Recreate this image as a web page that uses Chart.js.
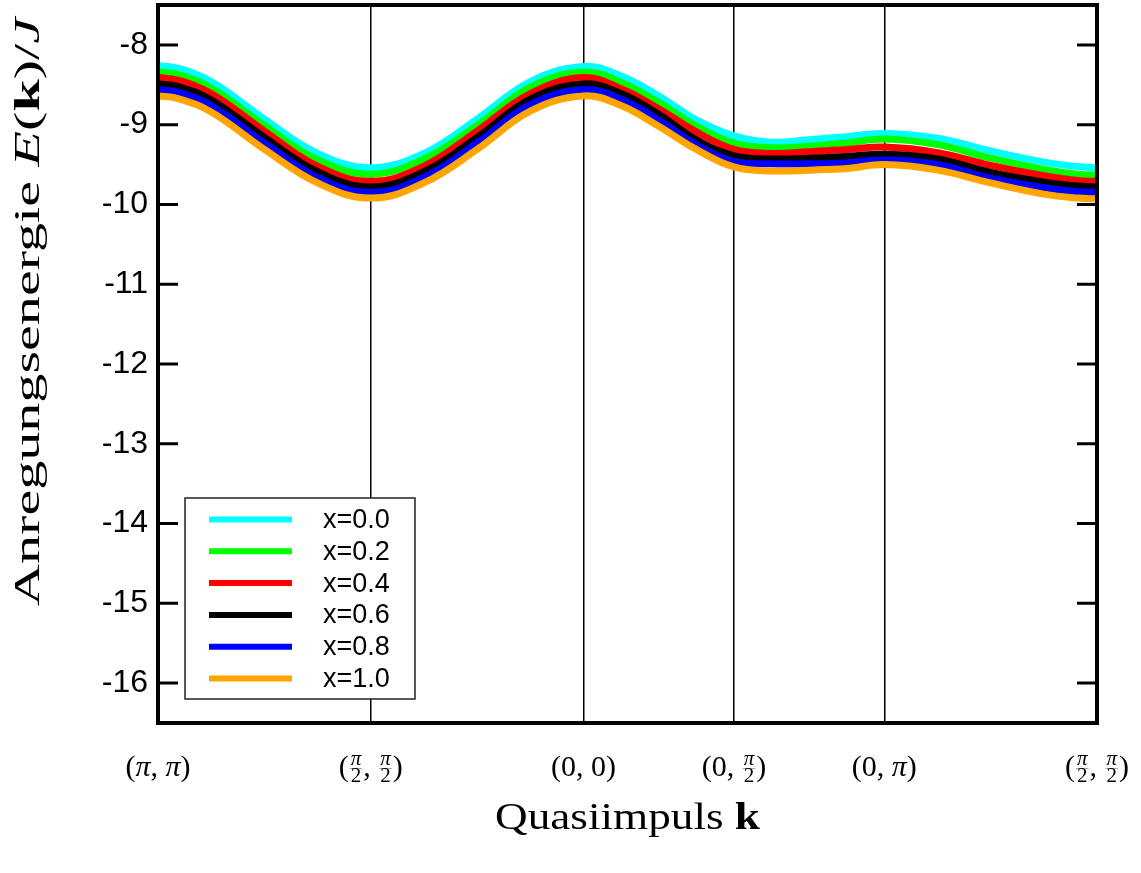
<!DOCTYPE html>
<html>
<head>
<meta charset="utf-8">
<script src="https://cdn.jsdelivr.net/npm/chart.js@4.4.1/dist/chart.umd.min.js"></script>
<style>
  html, body { margin: 0; padding: 0; background: #fff; }
  canvas { display: block; }
</style>
</head>
<body>
<canvas id="c" width="1141" height="873"></canvas>
<script>
// path length along (π,π) -> (π/2,π/2) -> (0,0) -> (0,π/2) -> (0,π) -> (π/2,π/2)
const kPath = [0, 0.2, 0.555, 1.111, 1.666, 2.221, 2.776, 3.332, 3.887, 4.443,
  4.835, 5.228, 5.621, 6.014, 6.406, 6.799, 7.192, 7.584, 8.140, 8.695, 9.250, 9.6, 9.805];

const symPoints = [0, 2.221, 4.443, 6.014, 7.584, 9.805];
const symLabels = ['(π,π)', '(π/2,π/2)', '(0,0)', '(0,π/2)', '(0,π)', '(π/2,π/2)'];
const yTicks = [-16, -15, -14, -13, -12, -11, -10, -9, -8];

const seriesNames = ['x=0.0', 'x=0.2', 'x=0.4', 'x=0.6', 'x=0.8', 'x=1.0'];
const seriesColors = ['#00ffff', '#00ff00', '#ff0000', '#000000', '#0000ff', '#ffa500'];

const e00 = [-8.26, -8.29, -8.46, -8.93, -9.36, -9.54, -9.36, -8.93, -8.46, -8.27, -8.39, -8.64, -8.94, -9.14, -9.22, -9.19, -9.15, -9.11, -9.17, -9.33, -9.47, -9.525, -9.54];
const e02 = [-8.34, -8.37, -8.54, -9.01, -9.44, -9.62, -9.43, -9.01, -8.53, -8.34, -8.47, -8.72, -9.02, -9.23, -9.29, -9.27, -9.23, -9.18, -9.25, -9.42, -9.56, -9.62, -9.63];
const e04 = [-8.41, -8.44, -8.61, -9.08, -9.52, -9.71, -9.52, -9.08, -8.61, -8.41, -8.55, -8.80, -9.09, -9.31, -9.36, -9.34, -9.31, -9.28, -9.35, -9.51, -9.64, -9.70, -9.71];
const e06 = [-8.49, -8.52, -8.69, -9.16, -9.59, -9.78, -9.59, -9.16, -8.68, -8.49, -8.61, -8.87, -9.19, -9.39, -9.43, -9.42, -9.40, -9.37, -9.43, -9.60, -9.72, -9.77, -9.78];
const e08 = [-8.56, -8.59, -8.76, -9.23, -9.66, -9.85, -9.66, -9.23, -8.75, -8.56, -8.68, -8.94, -9.25, -9.46, -9.49, -9.49, -9.48, -9.44, -9.50, -9.67, -9.79, -9.84, -9.85];
const e10 = [-8.64, -8.67, -8.84, -9.31, -9.73, -9.92, -9.73, -9.31, -8.83, -8.64, -8.76, -9.02, -9.31, -9.53, -9.58, -9.57, -9.55, -9.50, -9.57, -9.73, -9.87, -9.92, -9.93];

const allSeries = [e00, e02, e04, e06, e08, e10];

const SERIF = '"Liberation Serif", "DejaVu Serif", serif';
const SANS = '"Liberation Sans", Arial, sans-serif';

function runFont(style, size) {
  return (style === 'i' ? 'italic ' : style === 'b' ? 'bold ' : '') + size + 'px ' + SERIF;
}
function runsWidth(ctx, runs, size) {
  let w = 0;
  for (const [t, s] of runs) { ctx.font = runFont(s, size); w += ctx.measureText(t).width; }
  return w;
}
// draws styled text centred on 0, stretched to the given width
function drawRunsFit(ctx, runs, size, width) {
  const w = runsWidth(ctx, runs, size);
  ctx.save();
  ctx.scale(width / w, 1);
  let x = -w / 2;
  for (const [t, s] of runs) {
    ctx.font = runFont(s, size);
    ctx.fillText(t, x, 0);
    x += ctx.measureText(t).width;
  }
  ctx.restore();
}

function labelItems(str) {
  const items = [];
  str.split(/(π\/2)/).forEach(p => {
    if (!p) return;
    if (p === 'π/2') items.push({ frac: true });
    else for (const ch of p) items.push({ t: ch === ',' ? ', ' : ch, s: ch === 'π' ? 'i' : 'r' });
  });
  return items;
}

function drawTickLabel(ctx, str, cx, base) {
  const big = 30, small = 21;
  const items = labelItems(str);
  let w = 0;
  items.forEach(it => {
    if (it.frac) {
      ctx.font = runFont('i', small);
      it.w = ctx.measureText('π').width + 4;
    } else {
      ctx.font = runFont(it.s, big);
      it.w = ctx.measureText(it.t).width;
    }
    w += it.w;
  });
  let x = cx - w / 2;
  ctx.textAlign = 'left';
  ctx.textBaseline = 'alphabetic';
  items.forEach(it => {
    if (it.frac) {
      const mid = x + it.w / 2;
      ctx.textAlign = 'center';
      ctx.font = runFont('i', small);
      ctx.fillText('π', mid, base - 11);
      ctx.font = runFont('r', small);
      ctx.fillText('2', mid, base + 6);
      ctx.globalAlpha = 0.5;
      ctx.fillRect(x + 1, base - 8, it.w - 2, 0.7);
      ctx.globalAlpha = 1;
      ctx.textAlign = 'left';
    } else {
      ctx.font = runFont(it.s, big);
      ctx.fillText(it.t, x, base);
    }
    x += it.w;
  });
}

const decor = {
  id: 'decor',
  afterDraw(chart) {
    const ctx = chart.ctx;
    const a = chart.chartArea;
    const xs = chart.scales.x, ys = chart.scales.y;
    ctx.save();
    ctx.fillStyle = '#000';
    ctx.strokeStyle = '#000';

    // inward ticks on left and right
    ctx.lineWidth = 3;
    yTicks.forEach(v => {
      const y = ys.getPixelForValue(v);
      ctx.beginPath();
      ctx.moveTo(a.left, y); ctx.lineTo(a.left + 20, y);
      ctx.moveTo(a.right, y); ctx.lineTo(a.right - 20, y);
      ctx.stroke();
    });

    // frame
    ctx.lineWidth = 4;
    ctx.strokeRect(a.left, a.top, a.right - a.left, a.bottom - a.top);

    // x tick labels
    symPoints.forEach((p, i) => drawTickLabel(ctx, symLabels[i], xs.getPixelForValue(p), 776));

    // axis titles
    ctx.textAlign = 'left';
    ctx.textBaseline = 'alphabetic';
    ctx.save();
    ctx.translate((a.left + a.right) / 2, 829);
    drawRunsFit(ctx, [['Quasiimpuls ', 'r'], ['k', 'b']], 38, 265);
    ctx.restore();

    ctx.save();
    ctx.translate(39, 312);
    ctx.rotate(-Math.PI / 2);
    drawRunsFit(ctx, [['Anregungsenergie ', 'r'], ['E', 'i'], ['(', 'r'], ['k', 'b'], [')', 'r'], ['/', 'r'], ['J', 'i']], 35, 588);
    ctx.restore();

    // legend
    const lx = 185, ly = 498, lw = 230, lh = 201;
    ctx.fillStyle = '#fff';
    ctx.fillRect(lx, ly, lw, lh);
    ctx.lineWidth = 1.5;
    ctx.strokeStyle = '#222';
    ctx.strokeRect(lx, ly, lw, lh);
    ctx.font = '27px ' + SANS;
    ctx.textBaseline = 'middle';
    seriesNames.forEach((name, i) => {
      const y = 519.5 + i * 31.8;
      ctx.strokeStyle = seriesColors[i];
      ctx.lineWidth = 6;
      ctx.beginPath();
      ctx.moveTo(209, y); ctx.lineTo(292, y);
      ctx.stroke();
      ctx.fillStyle = '#000';
      ctx.fillText(name, 323, y + 1);
    });
    ctx.restore();
  }
};

new Chart(document.getElementById('c'), {
  type: 'line',
  data: {
    datasets: allSeries.map((s, i) => ({
      label: seriesNames[i],
      data: kPath.map((k, j) => ({ x: k, y: s[j] })),
      borderColor: seriesColors[i],
      borderWidth: 7,
      pointRadius: 0,
      fill: false,
      tension: 0.4,
      order: 5 - i
    }))
  },
  options: {
    responsive: false,
    animation: false,
    devicePixelRatio: 1,
    layout: { padding: { left: 0, top: 5, right: 44, bottom: 150 } },
    plugins: { legend: { display: false }, tooltip: { enabled: false } },
    scales: {
      x: {
        type: 'linear',
        min: 0,
        max: 9.805,
        z: 1,
        border: { display: false },
        grid: {
          drawTicks: false,
          lineWidth: 1.5,
          color: c => (c.index === 0 || c.index === symPoints.length - 1) ? 'rgba(0,0,0,0)' : '#000'
        },
        ticks: { display: false },
        afterBuildTicks: s => { s.ticks = symPoints.map(v => ({ value: v })); },
        afterFit: s => { s.height = 0; s.paddingLeft = 0; s.paddingRight = 0; }
      },
      y: {
        min: -16.5,
        max: -7.5,
        border: { display: false },
        grid: { display: false, drawTicks: false },
        ticks: { color: '#000', padding: 10, font: { family: SANS, size: 32 } },
        afterBuildTicks: s => { s.ticks = yTicks.map(v => ({ value: v })); },
        afterFit: s => { s.width = 158; s.paddingTop = 0; s.paddingBottom = 0; }
      }
    }
  },
  plugins: [decor]
});
</script>
</body>
</html>
